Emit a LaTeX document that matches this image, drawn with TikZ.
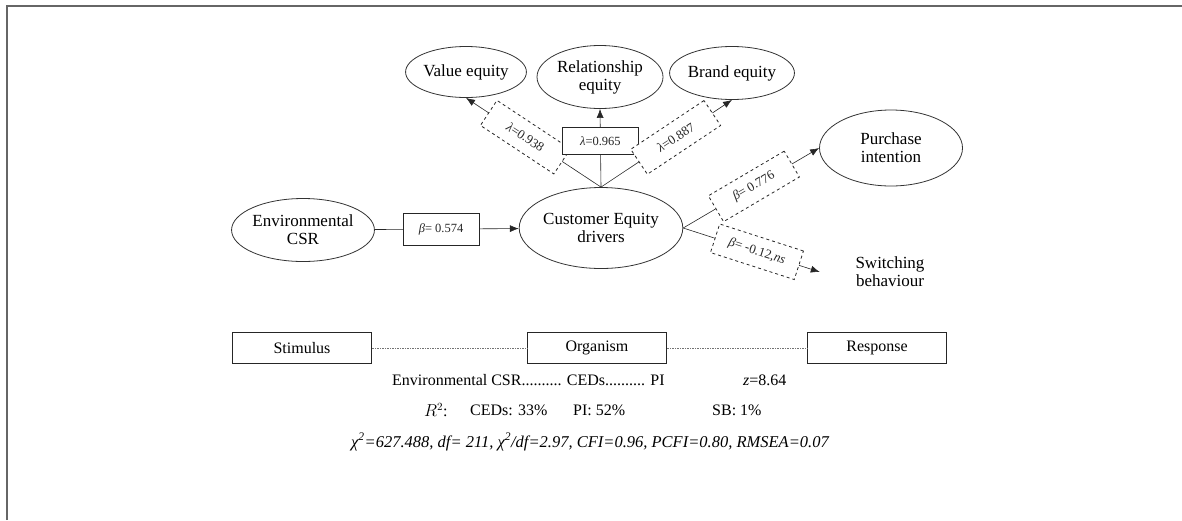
\documentclass[tikz,border=0pt]{standalone}
\usepackage{fontspec}
\setmainfont{Liberation Serif}
\usetikzlibrary{arrows,arrows.meta,shapes.geometric}

\begin{document}
\begin{tikzpicture}[x=1pt,y=-1pt]
\tikzstyle{construct} = [ellipse, draw=black!80, line width=0.8pt, inner sep=0pt,
font=\fontsize{17}{18}\selectfont, align=center]
\tikzstyle{coef} = [rectangle, draw=black!85, line width=0.8pt, fill=white,
font=\fontsize{12.5}{14}\selectfont, minimum width=76, minimum height=28, inner sep=1pt]
\tikzstyle{coefdash} = [coef, dashed, font=\fontsize{13}{14}\selectfont, minimum width=88, minimum height=30]
\tikzstyle{stage} = [rectangle, draw=black!85, line width=0.8pt,
font=\fontsize{16}{18}\selectfont, minimum width=139, minimum height=31]
\tikzstyle{note} = [font=\fontsize{16}{18}\selectfont, inner sep=0pt]
\tikzstyle{line} = [draw, line width=0.6pt, black!85, -{Latex[length=9pt,width=7pt]}];
\useasboundingbox (0,0) rectangle (1182,520);
% frame
\draw[black!60, line width=2pt] (7,520) -- (7,6) -- (1182,6);
% constructs
\node [construct, minimum width=118, minimum height=51] (value) at (466,72) {Value equity};
\node [construct, minimum width=126, minimum height=63] (relation) at (600,77) {Relationship\\equity};
\node [construct, minimum width=119, minimum height=53] (brand) at (732,73) {Brand equity};
\node [construct, minimum width=153, minimum height=81] (ced) at (601,228) {Customer Equity\\drivers};
\node [construct, minimum width=142, minimum height=63] (csr) at (303,230) {Environmental\\CSR};
\node [construct, minimum width=143, minimum height=76] (pi) at (891,148) {Purchase\\intention};
\node [font=\fontsize{17}{18}\selectfont, align=center, minimum width=140] (sb) at (890,272) {Switching\\behaviour};
% S-O-R
\node [stage] (stim) at (302,348) {Stimulus};
\node [stage] (org) at (597,348) {Organism};
\node [stage] (resp) at (877,348) {Response};
\draw [black!55, line width=0.6pt, dash pattern=on 2pt off 1.2pt on 0.6pt off 1.2pt] (stim) -- (org);
\draw [black!55, line width=0.6pt, dash pattern=on 2pt off 1.2pt on 0.6pt off 1.2pt] (org) -- (resp);
% fit
\node [note, anchor=west] (mediation) at (392,380) {Environmental CSR.......... CEDs.......... PI};
\node [note, anchor=west] (zval) at (743,380) {\textit{z}=8.64};
\node [note, anchor=west] (rsq) at (424,410) {$R^{2}$:};
\node [note, anchor=west] (rced) at (470,410) {CEDs: 33\%};
\node [note, anchor=west] (rpi) at (573,410) {PI: 52\%};
\node [note, anchor=west] (rsb) at (712,410) {SB: 1\%};
\node [note, font=\fontsize{16.5}{18}\selectfont\itshape] (fitidx) at (590,442)
{χ\textsuperscript{2}=627.488, df= 211, χ\textsuperscript{2}/df=2.97, CFI=0.96, PCFI=0.80, RMSEA=0.07};
\tikzstyle{every path}=[line]
\path (csr) -- node [coef, pos=0.46, minimum height=32] {\textit{β}= 0.574} (ced);
\path (ced.north) -- node [coefdash, sloped, pos=0.56] {\textit{λ}=0.938} (value.south);
\path (ced.north) -- node [coef, pos=0.59, minimum height=27] {\textit{λ}=0.965} (relation.south);
\path (ced.north) -- node [coefdash, sloped, pos=0.57] {\textit{λ}=0.887} (brand.south);
\path (ced.east) -- node [coefdash, sloped, pos=0.52] {\textit{β}= 0.776} (pi.west);
\path (ced.east) -- node [coefdash, sloped, pos=0.54] {\textit{β}= -0.12,\textit{ns}} (sb.west);
\end{tikzpicture}
\end{document}
